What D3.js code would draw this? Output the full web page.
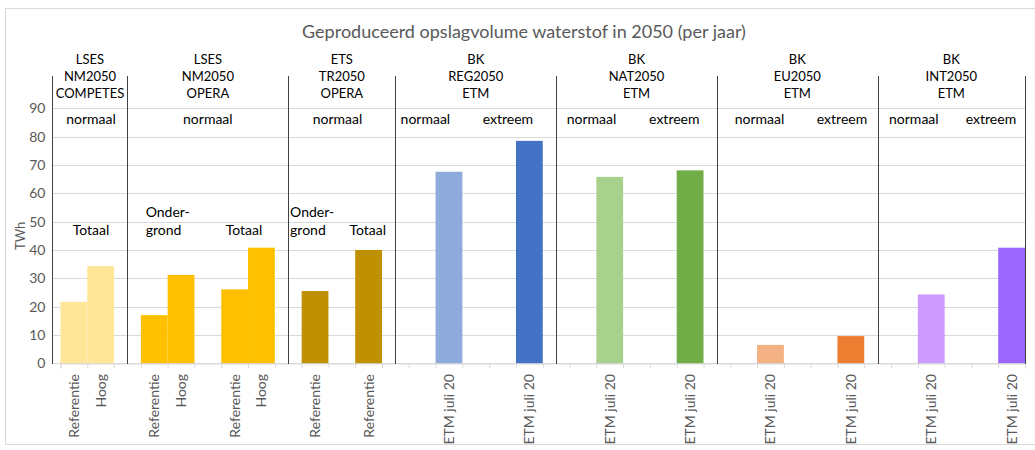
<!DOCTYPE html>
<html>
<head>
<meta charset="utf-8">
<script src="https://cdn.jsdelivr.net/npm/d3@7"></script>
<style>
  body { margin: 0; background: #fff; }
  svg { font-family: Lato, 'Open Sans', sans-serif; }
</style>
</head>
<body>
<div id="chart"></div>
<script>
// Chart title and axis title.
var title = 'Geproduceerd opslagvolume waterstof in 2050 (per jaar)';
var yTitle = 'TWh';

// One entry per category slot on the x axis (empty slots separate bars).
var categories = [
  'Referentie', 'Hoog', '',
  'Referentie', 'Hoog', '', 'Referentie', 'Hoog', '',
  'Referentie', '', 'Referentie', '',
  '', 'ETM juli 20', '', '', 'ETM juli 20', '',
  '', 'ETM juli 20', '', '', 'ETM juli 20', '',
  '', 'ETM juli 20', '', '', 'ETM juli 20', '',
  '', 'ETM juli 20', '', '', 'ETM juli 20'
];
// Values in TWh for each slot, null where no bar.
var values = [
  21.7, 34.3, null,
  17.0, 31.2, null, 26.1, 40.8, null,
  25.5, null, 40.0, null,
  null, 67.6, null, null, 78.5, null,
  null, 65.8, null, null, 68.1, null,
  null, 6.5, null, null, 9.6, null,
  null, 24.3, null, null, 40.8
];
// Fill colour per slot.
var colors = [
  '#FFE699', '#FFE699', null,
  '#FFC000', '#FFC000', null, '#FFC000', '#FFC000', null,
  '#BF9000', null, '#BF9000', null,
  null, '#8FAADC', null, null, '#4472C4', null,
  null, '#A9D18E', null, null, '#70AD47', null,
  null, '#F4B183', null, null, '#ED7D31', null,
  null, '#CC99FF', null, null, '#9966FF'
];
var yTicks = [0, 10, 20, 30, 40, 50, 60, 70, 80, 90];

// Group headers (three lines each).
var groupHeaders = [
  ['LSES', 'NM2050', 'COMPETES'],
  ['LSES', 'NM2050', 'OPERA'],
  ['ETS', 'TR2050', 'OPERA'],
  ['BK', 'REG2050', 'ETM'],
  ['BK', 'NAT2050', 'ETM'],
  ['BK', 'EU2050', 'ETM'],
  ['BK', 'INT2050', 'ETM']
];
// Group separators, in slot units.
var separators = [-0.3, 2.5, 8.5, 12.5, 18.5, 24.5, 30.5, 36];

// Annotations inside the plot: text and slot position.
var scenarioLabels = [
  {text: 'normaal', slot: 1.14}, {text: 'normaal', slot: 5.5}, {text: 'normaal', slot: 10.34},
  {text: 'normaal', slot: 13.62}, {text: 'extreem', slot: 16.7},
  {text: 'normaal', slot: 19.82}, {text: 'extreem', slot: 22.91},
  {text: 'normaal', slot: 26.09}, {text: 'extreem', slot: 29.17},
  {text: 'normaal', slot: 31.85}, {text: 'extreem', slot: 34.73}
];
var partLabels = [
  {lines: ['Totaal'], slot: 1.14, anchor: 'middle'},
  {lines: ['Onder-', 'grond'], slot: 3.18, anchor: 'start'},
  {lines: ['Totaal'], slot: 6.85, anchor: 'middle'},
  {lines: ['Onder-', 'grond'], slot: 8.57, anchor: 'start'},
  {lines: ['Totaal'], slot: 11.47, anchor: 'middle'}
];

var W = 1035, H = 450;
var svg = d3.select('#chart').append('svg')
    .attr('width', W)
    .attr('height', H);

// Outer frame.
svg.append('rect')
    .attr('x', 5.5).attr('y', 8.5)
    .attr('width', 1040).attr('height', 436)
    .attr('fill', 'none')
    .attr('stroke', '#d9d9d9');

// Scales.
var x = d3.scaleLinear().domain([0, categories.length]).range([60.5, 1025]);
var y = d3.scaleLinear().domain([0, 90]).range([363.3, 108.3]);
var sepTop = 76;

// Title.
svg.append('text')
    .attr('x', 524).attr('y', 32)
    .attr('dy', '0.35em')
    .attr('text-anchor', 'middle')
    .attr('fill', '#595959')
    .style('font-size', '18px')
    .text(title);

// Horizontal grid lines.
svg.append('g').selectAll('line')
    .data(yTicks)
    .enter().append('line')
    .attr('x1', x(separators[0])).attr('x2', x(categories.length))
    .attr('y1', function (d) { return Math.round(y(d)) + 0.5; })
    .attr('y2', function (d) { return Math.round(y(d)) + 0.5; })
    .attr('stroke', '#d9d9d9');

// Y axis labels.
var yAxis = d3.axisLeft(y).tickValues(yTicks).tickSize(0).tickPadding(7);
svg.append('g')
    .attr('transform', 'translate(' + x(separators[0]) + ',0)')
    .call(yAxis)
    .call(function (g) { g.select('.domain').remove(); })
    .selectAll('text')
    .attr('fill', '#595959')
    .style('font-family', 'Lato, sans-serif')
    .style('font-size', '14px');

svg.append('text')
    .attr('transform', 'translate(20,' + y(45) + ') rotate(-90)')
    .attr('text-anchor', 'middle')
    .attr('dy', '0.35em')
    .attr('fill', '#595959')
    .style('font-size', '13px')
    .text(yTitle);

// Bars.
var slots = values.map(function (v, i) { return {v: v, i: i}; })
    .filter(function (d) { return d.v !== null; });
svg.append('g').selectAll('rect')
    .data(slots)
    .enter().append('rect')
    .attr('x', function (d) { return x(d.i); })
    .attr('width', function (d) { return x(d.i + 1) - x(d.i); })
    .attr('y', function (d) { return y(d.v); })
    .attr('height', function (d) { return y(0) - y(d.v); })
    .attr('fill', function (d) { return colors[d.i]; });

// X axis: tick marks at slot boundaries.
var xAxis = d3.axisBottom(x).tickValues(d3.range(categories.length + 1))
    .tickSize(5).tickFormat('');
svg.append('g')
    .attr('transform', 'translate(0,' + (Math.round(y(0)) + 0.5) + ')')
    .call(xAxis)
    .call(function (g) {
        g.select('.domain').attr('stroke', '#d9d9d9');
        g.selectAll('.tick line').attr('stroke', '#d9d9d9');
    });

// Category labels, rotated.
svg.append('g').selectAll('text')
    .data(categories.map(function (c, i) { return {c: c, i: i}; })
        .filter(function (d) { return d.c !== ''; }))
    .enter().append('text')
    .attr('transform', function (d) {
        return 'translate(' + (x(d.i + 0.5)) + ',' + 374 + ') rotate(-90)';
    })
    .attr('text-anchor', 'end')
    .attr('dy', '0.35em')
    .attr('fill', '#595959')
    .style('font-size', '14px')
    .text(function (d) { return d.c; });

// Group separators.
svg.append('g').selectAll('line')
    .data(separators)
    .enter().append('line')
    .attr('x1', function (d) { return Math.round(x(d)) + 0.5; })
    .attr('x2', function (d) { return Math.round(x(d)) + 0.5; })
    .attr('y1', sepTop)
    .attr('y2', Math.round(y(0)) + 1)
    .attr('stroke', '#404040');

// Group headers.
var headers = svg.append('g').selectAll('text')
    .data(groupHeaders)
    .enter().append('text')
    .attr('text-anchor', 'middle')
    .attr('fill', '#000')
    .style('font-size', '13px');
headers.selectAll('tspan')
    .data(function (d, i) {
        var cx = (x(separators[i]) + x(separators[i + 1])) / 2;
        return d.map(function (t, k) { return {t: t, k: k, cx: cx}; });
    })
    .enter().append('tspan')
    .attr('x', function (d) { return d.cx; })
    .attr('y', function (d) { return 59.3 + d.k * 17.3; })
    .attr('dy', '0.35em')
    .text(function (d) { return d.t; });

// Scenario labels (normaal / extreem).
svg.append('g').selectAll('text')
    .data(scenarioLabels)
    .enter().append('text')
    .attr('x', function (d) { return x(d.slot); })
    .attr('y', 119.3)
    .attr('dy', '0.35em')
    .attr('text-anchor', 'middle')
    .attr('fill', '#000')
    .style('font-size', '14px')
    .text(function (d) { return d.text; });

// Part labels (Totaal / Ondergrond).
var parts = svg.append('g').selectAll('text')
    .data(partLabels)
    .enter().append('text')
    .attr('text-anchor', function (d) { return d.anchor; })
    .attr('fill', '#000')
    .style('font-size', '14px');
parts.selectAll('tspan')
    .data(function (d) {
        var n = d.lines.length;
        return d.lines.map(function (t, k) {
            return {t: t, px: x(d.slot), py: 230 - (n - 1 - k) * 18.3};
        });
    })
    .enter().append('tspan')
    .attr('x', function (d) { return d.px; })
    .attr('y', function (d) { return d.py; })
    .attr('dy', '0.35em')
    .text(function (d) { return d.t; });
</script>
</body>
</html>
